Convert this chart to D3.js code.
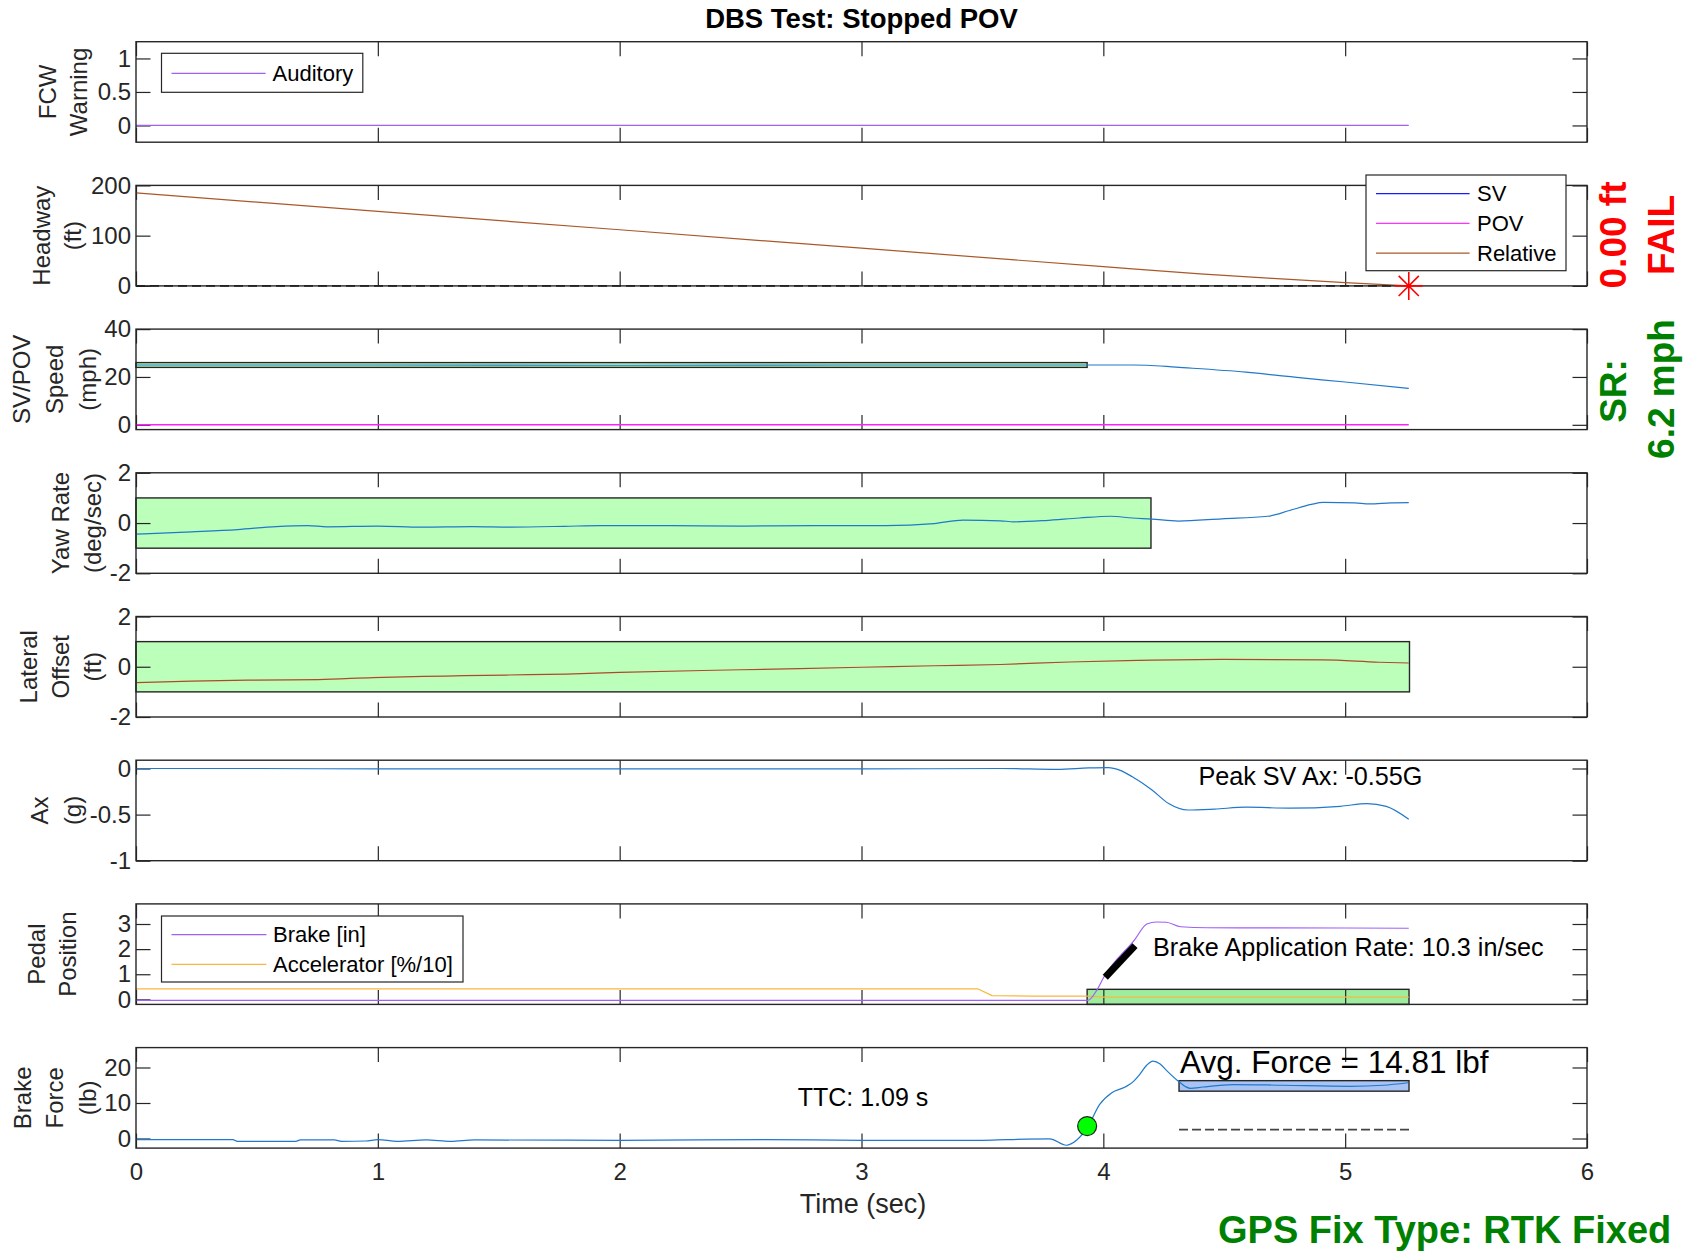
<!DOCTYPE html>
<html><head><meta charset="utf-8">
<script src="https://cdn.jsdelivr.net/npm/d3@7"></script>
<style>
body{margin:0;background:#fff}
svg{display:block}
text{font-family:"Liberation Sans", Arial, Helvetica, sans-serif}
</style>
</head><body>
<svg id="c" width="1696" height="1254"></svg>
<script>
// ---------------- DATA ----------------
const timeTicks = [0,1,2,3,4,5,6];
const panelLabels = [["FCW","Warning"],["Headway","(ft)"],["SV/POV","Speed","(mph)"],["Yaw Rate","(deg/sec)"],["Lateral","Offset","(ft)"],["Ax","(g)"],["Pedal","Position"],["Brake","Force","(lb)"]];
const panelDomains = [[-0.25,1.25],[0,200],[-2,40],[-2,2],[-2,2],[-1,0.09],[-0.2,3.8],[-2.7,25.6]];
const panelTicks = [[0,0.5,1],[0,100,200],[0,20,40],[-2,0,2],[-2,0,2],[-1,-0.5,0],[0,1,2,3],[0,10,20]];

const fcwTime = [0, 5.263];
const fcwAuditory = [0, 0];

const headwayTime = [0, 1, 2, 3, 4, 4.12, 4.4, 4.7, 5.0, 5.263];
const headwayRelative = [185, 148.3, 111.7, 75.0, 38.3, 33.9, 24.1, 14.8, 6.6, 0.2];
const headwayZeroTime = [0, 5.2];
const headwayZero = [0, 0];
const collisionPoint = [5.263, 0];
const headwayLegend = ["SV","POV","Relative"];

const speedTime = [0, 1, 2, 3, 4, 4.12, 4.18, 4.3, 4.59, 4.8, 5.0, 5.263];
const svSpeed = [25.0, 25.0, 24.9, 25.0, 25.0, 25.0, 24.9, 24.1, 22.0, 19.8, 17.9, 15.2];
const povTime = [0, 5.263];
const povSpeed = [0, 0];
const speedBoxT = [0, 3.933];
const speedBoxV = [24, 26];

const yawTime = [0,0.23,0.42,0.58,0.71,0.79,1.0,1.18,1.39,1.55,1.77,1.92,2.2,2.5,2.8,3.1,3.3,3.42,3.575,3.63,3.76,3.9,4.03,4.12,4.2,4.31,4.49,4.68,4.77,4.86,4.91,5.04,5.1,5.19,5.263];
const yawRate = [-0.44,-0.35,-0.26,-0.14,-0.1,-0.15,-0.12,-0.16,-0.14,-0.16,-0.13,-0.1,-0.1,-0.12,-0.1,-0.1,-0.02,0.12,0.09,0.05,0.1,0.2,0.27,0.2,0.16,0.08,0.17,0.27,0.5,0.74,0.82,0.8,0.76,0.8,0.81];
const yawBoxT = [0, 4.197];
const yawBoxV = [-1, 1];

const latTime = [0,0.23,0.485,0.754,0.98,1.28,1.53,1.78,2.0,2.5,3.0,3.3,3.575,3.86,4.14,4.49,4.91,5.14,5.263];
const latOffset = [-0.63,-0.57,-0.53,-0.51,-0.43,-0.37,-0.33,-0.29,-0.22,-0.12,-0.02,0.04,0.09,0.19,0.25,0.29,0.27,0.18,0.15];
const latBoxT = [0, 5.266];
const latBoxV = [-1, 1];

const axTime = [0,0.5,1,1.5,2,2.5,3,3.575,3.81,3.94,4.02,4.07,4.12,4.2,4.27,4.35,4.46,4.59,4.77,4.98,5.09,5.17,5.263];
const axG = [0,0,-0.005,-0.003,-0.005,-0.003,-0.005,0,-0.01,0.006,0.01,-0.02,-0.09,-0.23,-0.38,-0.45,-0.44,-0.42,-0.43,-0.41,-0.38,-0.41,-0.55];

const brakeTime = [0,3.936,3.975,4.0,4.13,4.18,4.22,4.26,4.32,4.43,5.0,5.263];
const brakePos = [-0.04,-0.04,0.4,0.85,2.38,3.0,3.08,3.07,2.89,2.85,2.84,2.83];
const accelTime = [0,3.48,3.54,3.7,3.94,4.0,5.263];
const accelPos = [0.42,0.42,0.15,0.13,0.13,0.09,0.09];
const pedalBoxT = [3.933, 5.264];
const pedalBoxV = [-0.2, 0.4];
const brakeRateT = [4.008, 4.131];
const brakeRateV = [0.88, 2.14];
const pedalLegend = ["Brake [in]","Accelerator [%/10]"];

const forceTime = [0,0.4,0.42,0.66,0.68,0.82,0.85,0.95,1.0,1.08,1.2,1.3,1.4,2.0,2.6,3.0,3.5,3.6,3.778,3.847,3.889,3.937,3.985,4.035,4.09,4.12,4.15,4.18,4.205,4.235,4.261,4.309,4.34,4.36,4.412,4.536,4.743,5.019,5.157,5.26];
const forceLb = [-0.3,-0.3,-0.8,-0.8,-0.4,-0.4,-0.8,-0.7,-0.3,-0.8,-0.4,-0.8,-0.4,-0.5,-0.3,-0.5,-0.5,-0.3,-0.1,-1.9,-0.5,3.5,9.6,12.9,14.5,15.8,18.0,20.7,21.8,21.0,19.2,16.2,14.6,14.1,14.5,15.2,15.0,14.7,15.0,15.7];
const forceBoxT = [4.313, 5.264];
const forceBoxV = [13.33, 16.29];
const forceRefT = [4.313, 5.264];
const forceRefV = [2.5, 2.5];
const ttcPoint = [3.933, 3.5];

// ---------------- LAYOUT / STYLE ----------------
const axCol = "#262626";
const purple = "#a05ff5", orange = "#f8b840", dataBlue = "#2079c9", latCol = "#b0482a", relCol = "#a9582a";
const boxGreen = "#bbffbb", boxGreen2 = "#9eec9e", boxBlue = "#a9c3f5";
const L = 136, R = 1587, top0 = 41.7, step = 143.7, ph = 100.5;
const labelLastX = [78, 72, 87, 92, 92, 72, 67, 87];
const labelGap = [31, 31, 33, 32, 32, 33, 31, 32.5];

const svg = d3.select("#c");
svg.append("rect").attr("width",1696).attr("height",1254).attr("fill","#fff");
const x = d3.scaleLinear().domain([0,6]).range([L,R]);
const ys = panelDomains.map((d,i)=>d3.scaleLinear().domain(d).range([top0+i*step+ph, top0+i*step]));

const gBox = svg.append("g"), gTick = svg.append("g"), gData = svg.append("g"), gTop = svg.append("g");

function pathOf(ts, vs, y, smooth){
  const ln = d3.line().x(d=>x(d[0])).y(d=>y(d[1]));
  if(smooth) ln.curve(d3.curveMonotoneX);
  return ln(d3.zip(ts, vs));
}
function drawLine(g, ts, vs, y, col, w, dash, smooth){
  const p = g.append("path").attr("d", pathOf(ts,vs,y,smooth)).attr("fill","none").attr("stroke",col).attr("stroke-width",w||1.2).attr("stroke-linejoin","round");
  if(dash) p.attr("stroke-dasharray",dash);
  return p;
}
function drawBox(ts, vs, y, fill){
  gBox.append("rect").attr("x",x(ts[0])).attr("y",y(vs[1])).attr("width",x(ts[1])-x(ts[0])).attr("height",y(vs[0])-y(vs[1]))
    .attr("fill",fill).attr("stroke",axCol).attr("stroke-width",1.4);
}

// axes, ticks, labels
ys.forEach((y,i)=>{
  const t = top0+i*step, b = t+ph;
  const gl = gTick.append("g").attr("transform",`translate(${L},0)`)
    .call(d3.axisLeft(y).tickValues(panelTicks[i]).tickSize(-14.5).tickSizeOuter(0).tickPadding(5).tickFormat(d=>String(d)));
  const gr = gTick.append("g").attr("transform",`translate(${R},0)`)
    .call(d3.axisRight(y).tickValues(panelTicks[i]).tickSize(-14.5).tickSizeOuter(0).tickFormat(""));
  const gt = gTick.append("g").attr("transform",`translate(0,${t})`)
    .call(d3.axisTop(x).tickValues(timeTicks).tickSize(-14.5).tickSizeOuter(0).tickFormat(""));
  const gb = gTick.append("g").attr("transform",`translate(0,${b})`)
    .call(d3.axisBottom(x).tickValues(timeTicks).tickSize(-14.5).tickSizeOuter(0).tickPadding(15)
      .tickFormat(i===ys.length-1 ? (d=>String(d)) : ""));
  [gl,gr,gt,gb].forEach(g=>{
    g.attr("font-family",null);
    g.select(".domain").remove();
    g.selectAll("line").attr("stroke",axCol).attr("stroke-width",1.2);
    g.selectAll("text").attr("fill",axCol).attr("font-size",24);
  });
  gTop.append("rect").attr("x",L).attr("y",t).attr("width",R-L).attr("height",ph)
    .attr("fill","none").attr("stroke",axCol).attr("stroke-width",1.4);
  // y labels
  const lines = panelLabels[i], n = lines.length, yc = (t+b)/2;
  lines.forEach((s,j)=>{
    const xl = labelLastX[i] - (n-1-j)*labelGap[i];
    gTop.append("text").attr("transform",`translate(${xl},${yc}) rotate(-90)`)
      .attr("text-anchor","middle").attr("dominant-baseline","central")
      .attr("font-size",24).attr("fill",axCol).text(s);
  });
});

// Panel 0: FCW
drawLine(gData, fcwTime, fcwAuditory, ys[0], purple, 1.2);
// Panel 1: Headway
drawLine(gData, headwayZeroTime, headwayZero, ys[1], "#111", 1.8, "9,5");
drawLine(gData, headwayTime, headwayRelative, ys[1], relCol, 1.2);
{
  const cx = x(collisionPoint[0]), cy = ys[1](collisionPoint[1]), r = 14, d = r*0.72;
  gTop.append("path").attr("d",`M${cx-r},${cy}H${cx+r}M${cx},${cy-r}V${cy+r}M${cx-d},${cy-d}L${cx+d},${cy+d}M${cx-d},${cy+d}L${cx+d},${cy-d}`)
    .attr("stroke","#ff0000").attr("stroke-width",1.6).attr("fill","none");
}
// Panel 2: Speed
drawLine(gData, speedTime, svSpeed, ys[2], dataBlue, 1.2, null, true);
drawLine(gData, povTime, povSpeed, ys[2], "#ff22ff", 1.4);
drawBox(speedBoxT, speedBoxV, ys[2], boxGreen);
// Panel 3: Yaw
drawBox(yawBoxT, yawBoxV, ys[3], boxGreen);
drawLine(gData, yawTime, yawRate, ys[3], dataBlue, 1.2, null, true);
// Panel 4: Lateral
drawBox(latBoxT, latBoxV, ys[4], boxGreen);
drawLine(gData, latTime, latOffset, ys[4], latCol, 1.2, null, true);
// Panel 5: Ax
drawLine(gData, axTime, axG, ys[5], dataBlue, 1.2, null, true);
// Panel 6: Pedal
drawBox(pedalBoxT, pedalBoxV, ys[6], boxGreen2);
drawLine(gData, accelTime, accelPos, ys[6], orange, 1.2);
drawLine(gData, brakeTime, brakePos, ys[6], purple, 1.2, null, true);
drawLine(gData, brakeRateT, brakeRateV, ys[6], "#000", 7).attr("stroke-linecap","butt");
// Panel 7: Brake force
drawBox(forceBoxT, forceBoxV, ys[7], boxBlue);
drawLine(gData, forceRefT, forceRefV, ys[7], "#444", 1.6, "9,4");
drawLine(gData, forceTime, forceLb, ys[7], dataBlue, 1.2, null, true);
gTop.append("circle").attr("cx",x(ttcPoint[0])).attr("cy",ys[7](ttcPoint[1])).attr("r",9.5)
  .attr("fill","#00ff00").attr("stroke","#222").attr("stroke-width",1.2);

// Legends
function legend(bx, by, bw, bh, names, colors, lx0, lx1, tx, y0){
  gTop.append("rect").attr("x",bx).attr("y",by).attr("width",bw).attr("height",bh)
    .attr("fill","#fff").attr("stroke",axCol).attr("stroke-width",1.2);
  names.forEach((nm,k)=>{
    const yy = y0 + k*29.7;
    gTop.append("line").attr("x1",lx0).attr("x2",lx1).attr("y1",yy).attr("y2",yy).attr("stroke",colors[k]).attr("stroke-width",1.3);
    gTop.append("text").attr("x",tx).attr("y",yy).attr("dominant-baseline","central").attr("font-size",22).attr("fill","#000").text(nm);
  });
}
legend(161.5, 53.3, 201.3, 39, ["Auditory"], [purple], 171.5, 265.6, 272.5, 73.3);
legend(1366, 175, 200, 95.7, headwayLegend, ["#1a1aff","#ff33ff",relCol], 1376, 1469.6, 1477, 193.7);
legend(161.5, 916, 301.5, 66, pedalLegend, [purple, orange], 171.5, 266.4, 273, 934.7);

// Annotations
const tx = (x0,y0,s,size,opt={})=>{
  const t = gTop.append("text").attr("x",x0).attr("y",y0).attr("font-size",size).attr("fill",opt.fill||"#000").text(s);
  if(opt.bold) t.attr("font-weight","bold");
  if(opt.anchor) t.attr("text-anchor",opt.anchor);
  return t;
};
tx(861.5, 28.3, "DBS Test: Stopped POV", 27.5, {bold:true, anchor:"middle"});
tx(863, 1213.3, "Time (sec)", 27, {anchor:"middle", fill:axCol});
tx(797.7, 1106, "TTC: 1.09 s", 25);
tx(1198.4, 785, "Peak SV Ax: -0.55G", 25.2);
tx(1153, 956, "Brake Application Rate: 10.3 in/sec", 25.2);
tx(1180, 1073.3, "Avg. Force = 14.81 lbf", 31.5);
tx(1218, 1243.3, "GPS Fix Type: RTK Fixed", 38, {bold:true, fill:"#008000"});

function sideText(xc, yc, s, col){
  gTop.append("text").attr("transform",`translate(${xc},${yc}) rotate(-90)`)
    .attr("text-anchor","middle").attr("dominant-baseline","central")
    .attr("font-size",37).attr("font-weight","bold").attr("fill",col).text(s);
}
sideText(1613, 235, "0.00 ft", "#ff0000");
sideText(1661, 235, "FAIL", "#ff0000");
sideText(1613, 391, "SR:", "#008000");
sideText(1661, 389, "6.2 mph", "#008000");
</script>
</body></html>
